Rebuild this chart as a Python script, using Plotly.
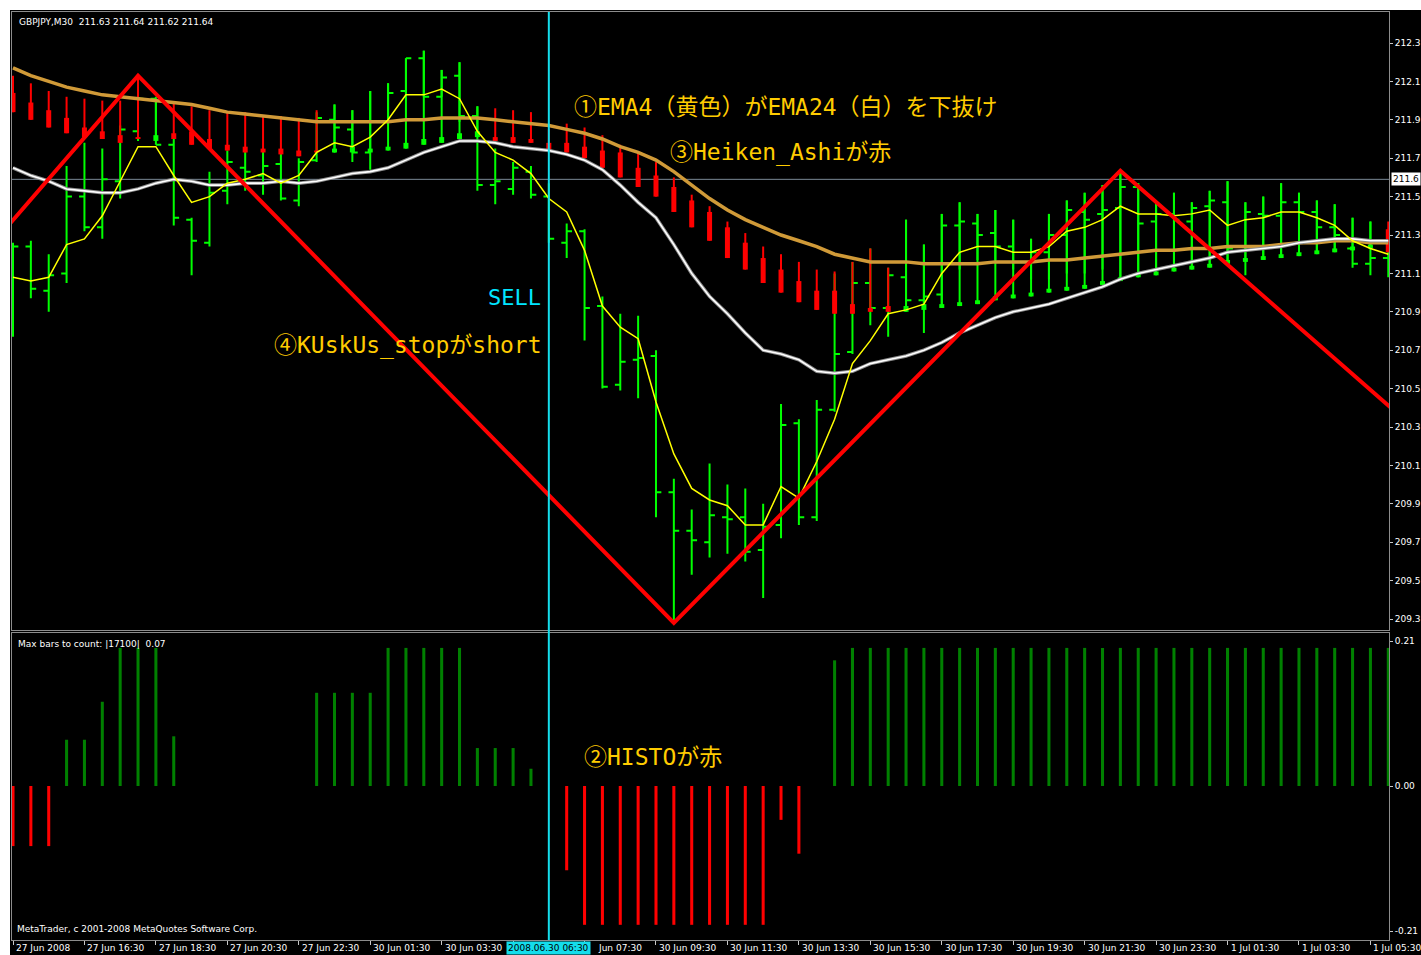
import plotly.graph_objects as go

# ------------------------------------------------------------------ data
# GBPJPY M30 bars (index 0 = 27 Jun 2008 14:30)
bar_open = [210.87, 211.24, 211.01, 211.10, 211.50, 211.34, 211.58, 211.84, 212.01, 211.77,
            211.38, 211.26, 211.53, 211.65, 211.61, 211.67, 211.48, 211.69, 211.90, 211.85,
            211.73, 211.89, 212.05, 212.22, 212.02, 212.13, 211.92, 211.56, 211.54, 211.63,
            211.50, 211.26, 211.32, 210.93, 210.52, 210.65, 210.67, 209.96, 209.76, 209.70,
            209.83, 209.83, 209.66, 209.79, 210.32, 209.83, 210.39, 210.69, 211.05, 210.92,
            211.08, 210.96, 210.99, 211.35, 211.36, 211.31, 211.24, 211.16, 211.21, 211.30,
            211.42, 211.41, 211.44, 211.55, 211.37, 211.41, 211.37, 211.45, 211.47, 211.24,
            211.41, 211.40, 211.47, 211.42, 211.34, 211.23, 211.15, 211.18]
bar_high = [211.26, 211.27, 211.20, 211.66, 211.78, 211.75, 211.87, 212.13, 212.02, 211.80,
            211.39, 211.63, 211.74, 211.74, 211.74, 211.73, 211.70, 211.94, 211.98, 211.95,
            212.05, 212.09, 212.22, 212.26, 212.16, 212.20, 211.97, 211.75, 211.68, 211.66,
            211.57, 211.36, 211.33, 210.98, 210.89, 210.88, 210.70, 210.03, 209.87, 210.11,
            210.00, 209.98, 209.90, 210.42, 210.34, 210.44, 211.10, 211.16, 211.23, 211.13,
            211.38, 211.25, 211.41, 211.47, 211.41, 211.43, 211.38, 211.28, 211.41, 211.48,
            211.52, 211.56, 211.64, 211.57, 211.47, 211.52, 211.47, 211.53, 211.58, 211.47,
            211.50, 211.57, 211.52, 211.48, 211.46, 211.39, 211.37, 211.24]
bar_low = [210.77, 210.97, 210.90, 211.05, 211.32, 211.28, 211.49, 211.79, 211.77, 211.35,
           211.09, 211.24, 211.46, 211.53, 211.51, 211.48, 211.45, 211.68, 211.73, 211.68,
           211.64, 211.87, 212.04, 212.02, 212.02, 211.89, 211.53, 211.46, 211.51, 211.49,
           211.26, 211.18, 210.75, 210.50, 210.49, 210.45, 209.83, 209.28, 209.53, 209.62,
           209.64, 209.60, 209.41, 209.72, 209.79, 209.81, 210.38, 210.68, 210.83, 210.77,
           210.94, 210.79, 210.93, 211.12, 211.17, 211.17, 211.12, 211.07, 211.07, 211.10,
           211.10, 211.12, 211.07, 211.08, 211.10, 211.12, 211.14, 211.14, 211.17, 211.09,
           211.18, 211.20, 211.20, 211.21, 211.22, 211.13, 211.09, 211.08]
bar_close = [211.24, 211.02, 211.09, 211.50, 211.34, 211.59, 211.85, 212.01, 211.77, 211.39,
             211.27, 211.52, 211.68, 211.63, 211.66, 211.49, 211.68, 211.91, 211.86, 211.73,
             211.89, 212.04, 212.22, 212.02, 212.12, 211.92, 211.56, 211.58, 211.65, 211.51,
             211.28, 211.32, 210.92, 210.51, 210.64, 210.66, 209.96, 209.76, 209.71, 209.84,
             209.82, 209.65, 209.78, 210.31, 209.83, 210.39, 210.68, 211.05, 210.92, 211.09,
             210.96, 210.98, 211.35, 211.37, 211.30, 211.24, 211.16, 211.21, 211.30, 211.43,
             211.38, 211.43, 211.55, 211.36, 211.41, 211.38, 211.44, 211.48, 211.23, 211.42,
             211.40, 211.47, 211.42, 211.34, 211.30, 211.15, 211.18, 211.14]

# Heiken Ashi (smoothed) values
ha_high = [212.13, 212.09, 212.05, 212.02, 212.01, 212.00, 212.00, 212.13, 212.00, 211.99,
           211.97, 211.95, 211.94, 211.94, 211.92, 211.92, 211.91, 211.95, 211.98, 211.95,
           212.05, 212.09, 212.22, 212.26, 212.16, 212.20, 211.97, 211.96, 211.95, 211.94,
           211.85, 211.88, 211.86, 211.82, 211.77, 211.73, 211.68, 211.60, 211.51, 211.45,
           211.37, 211.31, 211.24, 211.20, 211.16, 211.12, 211.11, 211.16, 211.23, 211.13,
           211.38, 211.25, 211.41, 211.47, 211.41, 211.43, 211.38, 211.28, 211.41, 211.48,
           211.52, 211.56, 211.64, 211.57, 211.47, 211.52, 211.47, 211.53, 211.58, 211.47,
           211.50, 211.57, 211.52, 211.48, 211.46, 211.39, 211.37, 211.37]
ha_open = [212.04, 211.99, 211.95, 211.91, 211.86, 211.84, 211.82, 211.81, 211.79, 211.83,
           211.84, 211.80, 211.77, 211.76, 211.75, 211.75, 211.74, 211.74, 211.73, 211.73,
           211.73, 211.74, 211.75, 211.77, 211.78, 211.80, 211.81, 211.81, 211.81, 211.80,
           211.78, 211.78, 211.76, 211.74, 211.73, 211.65, 211.61, 211.55, 211.48, 211.42,
           211.34, 211.26, 211.18, 211.12, 211.06, 211.01, 211.01, 210.94, 210.92, 210.93,
           210.90, 210.91, 210.92, 210.93, 210.94, 210.96, 210.97, 210.98, 211.00, 211.01,
           211.02, 211.04, 211.06, 211.08, 211.09, 211.11, 211.12, 211.13, 211.15, 211.16,
           211.17, 211.18, 211.19, 211.20, 211.21, 211.22, 211.23, 211.33]
ha_close = [211.94, 211.90, 211.86, 211.83, 211.81, 211.80, 211.78, 211.80, 211.82, 211.80,
            211.77, 211.75, 211.74, 211.73, 211.73, 211.72, 211.71, 211.73, 211.75, 211.76,
            211.75, 211.76, 211.78, 211.80, 211.81, 211.83, 211.84, 211.79, 211.78, 211.78,
            211.74, 211.73, 211.70, 211.65, 211.60, 211.55, 211.50, 211.42, 211.34, 211.27,
            211.18, 211.12, 211.05, 211.00, 210.95, 210.91, 210.89, 210.89, 210.90, 210.90,
            210.93, 210.94, 210.94, 210.95, 210.96, 210.98, 210.99, 211.00, 211.02, 211.03,
            211.04, 211.06, 211.08, 211.10, 211.11, 211.13, 211.14, 211.15, 211.17, 211.18,
            211.19, 211.20, 211.21, 211.22, 211.23, 211.24, 211.25, 211.21]

ema4 = [211.08, 211.06, 211.08, 211.25, 211.28, 211.40, 211.58, 211.76, 211.76, 211.61,
        211.47, 211.50, 211.57, 211.59, 211.62, 211.57, 211.61, 211.73, 211.78, 211.76,
        211.81, 211.90, 212.03, 212.03, 212.06, 212.01, 211.84, 211.73, 211.69, 211.62,
        211.49, 211.42, 211.22, 210.93, 210.82, 210.76, 210.43, 210.16, 209.98, 209.92,
        209.89, 209.79, 209.79, 209.99, 209.93, 210.12, 210.34, 210.63, 210.75, 210.89,
        210.91, 210.94, 211.10, 211.21, 211.24, 211.24, 211.21, 211.21, 211.24, 211.32,
        211.34, 211.38, 211.45, 211.41, 211.41, 211.40, 211.41, 211.43, 211.35, 211.38,
        211.39, 211.42, 211.42, 211.39, 211.35, 211.27, 211.23, 211.20]
ema24 = [211.65, 211.61, 211.58, 211.54, 211.53, 211.52, 211.52, 211.54, 211.57, 211.59,
         211.58, 211.56, 211.56, 211.57, 211.57, 211.58, 211.57, 211.58, 211.60, 211.62,
         211.63, 211.65, 211.69, 211.73, 211.76, 211.79, 211.79, 211.78, 211.76, 211.75,
         211.74, 211.72, 211.69, 211.64, 211.56, 211.47, 211.39, 211.25, 211.10, 210.98,
         210.89, 210.79, 210.70, 210.68, 210.65, 210.59, 210.58, 210.59, 210.63, 210.65,
         210.67, 210.70, 210.74, 210.79, 210.83, 210.87, 210.90, 210.92, 210.94, 210.97,
         211.00, 211.03, 211.07, 211.10, 211.12, 211.14, 211.16, 211.18, 211.21, 211.22,
         211.23, 211.24, 211.26, 211.27, 211.28, 211.28, 211.27, 211.27]
slow_ma = [212.17, 212.13, 212.10, 212.07, 212.05, 212.03, 212.02, 212.01, 212.00, 211.99,
           211.98, 211.96, 211.94, 211.93, 211.92, 211.91, 211.90, 211.89, 211.89, 211.89,
           211.89, 211.89, 211.90, 211.90, 211.91, 211.91, 211.91, 211.90, 211.89, 211.88,
           211.87, 211.85, 211.83, 211.80, 211.76, 211.73, 211.69, 211.63, 211.56, 211.49,
           211.43, 211.38, 211.34, 211.30, 211.27, 211.24, 211.20, 211.18, 211.16, 211.16,
           211.16, 211.15, 211.15, 211.15, 211.15, 211.16, 211.16, 211.16, 211.17, 211.17,
           211.18, 211.19, 211.20, 211.21, 211.22, 211.22, 211.23, 211.23, 211.24, 211.24,
           211.24, 211.25, 211.26, 211.26, 211.27, 211.27, 211.26, 211.26]

zigzag_idx = [-1, 7, 37, 62, 78]
zigzag_price = [211.27, 212.13, 209.28, 211.635, 210.33]

histo = [-0.087, -0.087, -0.087, 0.067, 0.067, 0.122, 0.200, 0.200, 0.200, 0.072,
         0, 0, 0, 0, 0, 0, 0, 0.135, 0.135, 0.135,
         0.135, 0.200, 0.200, 0.200, 0.200, 0.200, 0.055, 0.055, 0.055, 0.025,
         0, -0.122, -0.201, -0.201, -0.201, -0.201, -0.201, -0.201, -0.201, -0.201,
         -0.201, -0.201, -0.201, -0.049, -0.098, 0, 0.182, 0.200, 0.200, 0.200,
         0.200, 0.200, 0.200, 0.200, 0.200, 0.200, 0.200, 0.200, 0.200, 0.200,
         0.200, 0.200, 0.200, 0.200, 0.200, 0.200, 0.200, 0.200, 0.200, 0.200,
         0.200, 0.200, 0.200, 0.200, 0.200, 0.200, 0.200, 0.200]

time_label_idx = [0, 4, 8, 12, 16, 20, 24, 28, 32, 36, 40, 44, 48, 52, 56, 60, 64, 68, 72, 76]
time_labels = ["27 Jun 2008", "27 Jun 16:30", "27 Jun 18:30", "27 Jun 20:30", "27 Jun 22:30",
               "30 Jun 01:30", "30 Jun 03:30", "30 Jun 05:30", "30 Jun 07:30", "30 Jun 09:30",
               "30 Jun 11:30", "30 Jun 13:30", "30 Jun 15:30", "30 Jun 17:30", "30 Jun 19:30",
               "30 Jun 21:30", "30 Jun 23:30", "1 Jul 01:30", "1 Jul 03:30", "1 Jul 05:30"]
price_ticks = [209.3, 209.5, 209.7, 209.9, 210.1, 210.3, 210.5, 210.7, 210.9,
               211.1, 211.3, 211.5, 211.7, 211.9, 212.1, 212.3]
histo_ticks = [-0.21, 0.0, 0.21]
histo_tick_text = ["-0.21", "0.00", "0.21"]

sell_idx = 30
sell_label = "2008.06.30 06:30"
bid_price = 211.59
bid_label = "211.6"
header = "GBPJPY,M30  211.63 211.64 211.62 211.64"

# ------------------------------------------------------------------ style
W, H = 1421, 955
ML, MR, MT, MB = 12, 32, 12, 15
PW, PH = W - ML - MR, H - MT - MB
LIME, RED, CYAN, GOLD = "#00FF00", "#FF0000", "#14DDEB", "#FFCC00"
GRID = "#8C8C8C"
SMALL = dict(family="DejaVu Sans", size=9, color="white")
JP = dict(family="DejaVu Sans Mono, Noto Sans CJK JP", size=23, color=GOLD)


def py(px_from_top):
    return (H - MB - px_from_top) / PH


def pxx(px_from_left):
    return (px_from_left - ML) / PW


n = len(bar_open)
xs = list(range(n))

fig = go.Figure()

fig.add_trace(go.Ohlc(
    x=xs, open=bar_open, high=bar_high, low=bar_low, close=bar_close,
    increasing=dict(line=dict(color=LIME, width=2)),
    decreasing=dict(line=dict(color=LIME, width=2)),
    tickwidth=0.3, xaxis="x", yaxis="y", hoverinfo="skip", showlegend=False))


def segments(idx_list, a_list, b_list):
    X, Y = [], []
    for i, a, b in zip(idx_list, a_list, b_list):
        X += [i, i, None]
        Y += [a, b, None]
    return X, Y


for colour, is_bear in ((RED, True), (LIME, False)):
    sel = [i for i in xs if (ha_open[i] > ha_close[i]) == is_bear]
    wx, wy = segments(sel, [ha_high[i] for i in sel],
                      [min(ha_open[i], ha_close[i]) for i in sel])
    fig.add_trace(go.Scatter(x=wx, y=wy, mode="lines", line=dict(color=colour, width=2),
                             xaxis="x", yaxis="y", hoverinfo="skip", showlegend=False))
    bx, by = segments(sel, [ha_open[i] for i in sel], [ha_close[i] for i in sel])
    fig.add_trace(go.Scatter(x=bx, y=by, mode="lines", line=dict(color=colour, width=5),
                             xaxis="x", yaxis="y", hoverinfo="skip", showlegend=False))

fig.add_trace(go.Scatter(x=xs, y=slow_ma, mode="lines", line=dict(color="#D09A38", width=3.5),
                         xaxis="x", yaxis="y", hoverinfo="skip", showlegend=False))
fig.add_trace(go.Scatter(x=xs, y=ema24, mode="lines", line=dict(color="#8E8E8E", width=3.5),
                         xaxis="x", yaxis="y", hoverinfo="skip", showlegend=False))
fig.add_trace(go.Scatter(x=xs, y=ema24, mode="lines", line=dict(color="#FFFFFF", width=1.6),
                         xaxis="x", yaxis="y", hoverinfo="skip", showlegend=False))
fig.add_trace(go.Scatter(x=xs, y=ema4, mode="lines", line=dict(color="#FFFF00", width=1.5),
                         xaxis="x", yaxis="y", hoverinfo="skip", showlegend=False))
fig.add_trace(go.Scatter(x=zigzag_idx, y=zigzag_price, mode="lines",
                         line=dict(color=RED, width=4),
                         xaxis="x", yaxis="y", hoverinfo="skip", showlegend=False))

fig.add_trace(go.Bar(x=xs, y=histo, width=0.17,
                     marker=dict(color=["#008000" if v > 0 else RED for v in histo],
                                 line=dict(width=0)),
                     xaxis="x2", yaxis="y2", hoverinfo="skip", showlegend=False))

XR = [-0.056, 77.04]
axis_common = dict(showgrid=False, zeroline=False, showline=True, linecolor=GRID,
                   linewidth=1, mirror=True, automargin=False)
main_lo = 1 - 618 / PH
sub_hi = 307 / PH

fig.update_layout(
    width=W, height=H, autosize=False,
    margin=dict(l=ML, r=MR, t=MT, b=MB, pad=0, autoexpand=False),
    paper_bgcolor="black", plot_bgcolor="black",
    barmode="overlay", hovermode=False, showlegend=False,
    xaxis=dict(domain=[0, 1], range=XR, anchor="y", showticklabels=False, ticks="",
               rangeslider=dict(visible=False), **axis_common),
    xaxis2=dict(domain=[0, 1], range=XR, anchor="y2", ticks="outside", ticklen=4,
                tickcolor="#C8C8C8", tickvals=time_label_idx, showticklabels=False,
                **axis_common),
    yaxis=dict(domain=[main_lo, 1], range=[209.2427, 212.4615], side="right", anchor="x",
               tickvals=price_ticks, ticktext=[f"{v:.1f}" for v in price_ticks],
               ticks="outside", ticklen=3, tickcolor="#C8C8C8", tickfont=SMALL,
               **axis_common),
    yaxis2=dict(domain=[0, sub_hi], range=[-0.223, 0.2216], side="right", anchor="x2",
                tickvals=histo_ticks, ticktext=histo_tick_text,
                ticks="outside", ticklen=3, tickcolor="#C8C8C8", tickfont=SMALL,
                **axis_common),
)

shapes = [
    dict(type="line", xref="paper", yref="y", x0=0, x1=1, y0=bid_price, y1=bid_price,
         line=dict(color="#7A8896", width=1), layer="below"),
    dict(type="line", xref="x", yref="paper", x0=sell_idx, x1=sell_idx, y0=0, y1=1,
         line=dict(color=CYAN, width=2), layer="above"),
    dict(type="rect", xref="paper", yref="paper", x0=pxx(0), x1=pxx(10), y0=py(H), y1=py(0),
         fillcolor="white", line=dict(width=0), layer="above"),
    dict(type="rect", xref="paper", yref="paper", x0=pxx(0), x1=pxx(W), y0=py(10), y1=py(0),
         fillcolor="white", line=dict(width=0), layer="above"),
]
fig.update_layout(shapes=shapes)

ann = []
for i, t in zip(time_label_idx, time_labels):
    shift = 1
    if i == sell_idx - 2:
        continue  # fully hidden behind the cursor date box
    if i == sell_idx + 2:
        t = t.split(" ", 1)[1]  # only the part right of the cursor box is visible
        shift = 11
    ann.append(dict(x=i, xref="x2", y=py(948), yref="paper", text=t, showarrow=False,
                    xanchor="left", yanchor="middle", xshift=shift, font=SMALL))
ann.append(dict(x=sell_idx, xref="x2", y=py(948), yref="paper", text=sell_label,
                showarrow=False, xanchor="center", yanchor="middle", bgcolor=CYAN,
                borderpad=1, font=dict(family="DejaVu Sans", size=9, color="black")))
ann.append(dict(x=1, xref="paper", y=bid_price, yref="y", text=bid_label, showarrow=False,
                xanchor="left", yanchor="middle", xshift=2, bgcolor="white", borderpad=1,
                font=dict(family="DejaVu Sans", size=9, color="black")))
ann.append(dict(x=pxx(17), xref="paper", y=py(22), yref="paper", text=header,
                showarrow=False, xanchor="left", yanchor="middle", font=SMALL))
ann.append(dict(x=pxx(16), xref="paper", y=py(644), yref="paper",
                text="Max bars to count: |17100|  0.07",
                showarrow=False, xanchor="left", yanchor="middle", font=SMALL))
ann.append(dict(x=pxx(15), xref="paper", y=py(929), yref="paper",
                text="MetaTrader, c 2001-2008 MetaQuotes Software Corp.",
                showarrow=False, xanchor="left", yanchor="middle", font=SMALL))
ann.append(dict(x=31.3, xref="x", y=211.967, yref="y",
                text="①EMA4（黄色）がEMA24（白）を下抜け", showarrow=False,
                xanchor="left", yanchor="middle", font=JP))
ann.append(dict(x=36.67, xref="x", y=211.732, yref="y", text="③Heiken_Ashiが赤",
                showarrow=False, xanchor="left", yanchor="middle", font=JP))
ann.append(dict(x=26.48, xref="x", y=210.972, yref="y", text="SELL", showarrow=False,
                xanchor="left", yanchor="middle",
                font=dict(family="DejaVu Sans Mono", size=22, color="#00E5FF")))
ann.append(dict(x=14.5, xref="x", y=210.727, yref="y", text="④KUskUs_stopがshort",
                showarrow=False, xanchor="left", yanchor="middle", font=JP))
ann.append(dict(x=31.86, xref="x2", y=0.042, yref="y2", text="②HISTOが赤",
                showarrow=False, xanchor="left", yanchor="middle", font=JP))
fig.update_layout(annotations=ann)

fig.write_html("out.html", config={"displayModeBar": False},
               post_script="document.body.style.margin='0';")
